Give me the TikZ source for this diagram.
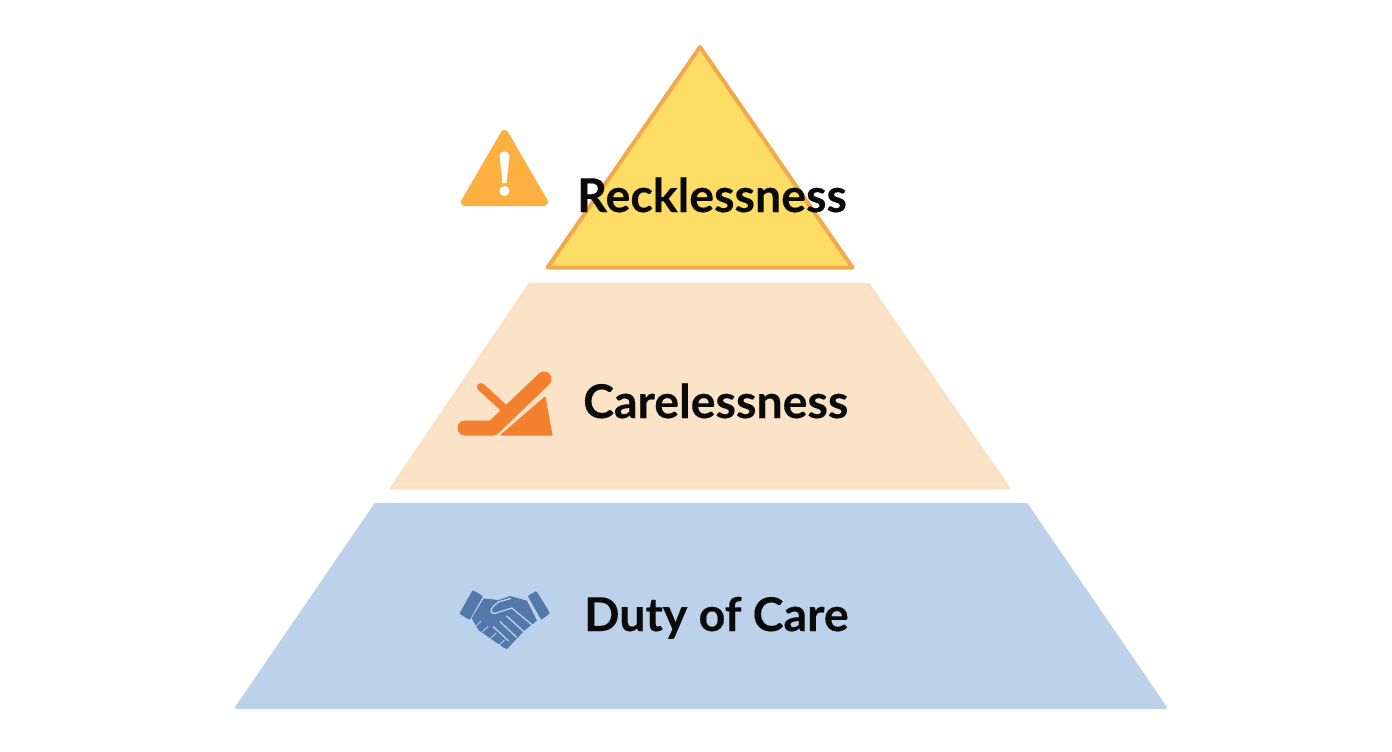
\documentclass[tikz,border=0pt]{standalone}
\usepackage{fontspec}
\setmainfont[BoldFeatures={FakeBold=0.35}]{Lato}
\definecolor{topfill}{HTML}{FEDD66}
\definecolor{topline}{HTML}{F3A94B}
\definecolor{midfill}{HTML}{FBE3C8}
\definecolor{midline}{HTML}{FBE0C2}
\definecolor{lowfill}{HTML}{BBD2EA}
\definecolor{warnfill}{HTML}{FDB03F}
\definecolor{slipfill}{HTML}{F47F2E}
\definecolor{handfill}{HTML}{5279A9}
\definecolor{labeltext}{HTML}{0A0A0A}
\tikzset{
  level/.style={line join=round,line width=3pt},
  label/.style={anchor=base west,inner sep=0pt,text=labeltext,font=\fontsize{46.5}{54}\selectfont\bfseries},
}
\begin{document}
\begin{tikzpicture}[x=1pt,y=-1pt]
\useasboundingbox (0,0) rectangle (1392,752);

% Levels
\draw[level,fill=topfill,draw=topline,line width=4pt] (700,47) -- (852.5,267.5) -- (547.5,267.5) -- cycle;
\draw[level,fill=midfill,draw=midline] (529.5,284.5) -- (868.5,284.5) -- (1008.5,488) -- (391.5,488) -- cycle;
\draw[level,fill=lowfill,draw=lowfill] (375.5,504.5) -- (1026.5,504.5) -- (1165.5,707.5) -- (236.5,707.5) -- cycle;

% Warning sign
\draw[fill=warnfill,draw=warnfill,line join=round,line width=8pt] (504.5,134) -- (544,202) -- (465,202) -- cycle;
\fill[white] (499.5,156) .. controls (499.5,150) and (509.5,150) .. (509.5,156) -- (506.5,183) -- (502.5,183) -- cycle;
\fill[white] (504.5,191) circle (5pt);

% Slip sign
\draw[slipfill,line width=8pt,line cap=round] (481,387) -- (505,409);
\draw[slipfill,line width=15pt,line cap=round,line join=round] (465,428) -- (493,428) -- (544,379);
\draw[fill=slipfill,draw=slipfill,line join=round,line width=1pt] (545,397) -- (552,435) -- (501,435) -- cycle;

% Handshake
\begin{scope}[shift={(445,580)},x=0.3333pt,y=-0.3333pt]
\fill[handfill,rounded corners=1pt] (83,30) -- (114,48) -- (74,120) -- (43,101) -- cycle;
\fill[handfill,rounded corners=1pt] (274,33) -- (248,48) -- (289,120) -- (315,99) -- cycle;
\fill[handfill,line join=round] (116,55) -- (160,60) -- (195,48) -- (246,62) -- (276,122) -- (240,150) -- (185,208) -- (150,185) -- (100,150) -- (80,115) -- cycle;
\foreach \a/\b in {100/130, 122/145, 146/165, 172/185}
{
\draw[handfill,line width=6pt,line cap=round] (\a,\b) -- (\a+8,\b+10);
\draw[lowfill,line width=0.8pt] (\a-10,\b+10) -- (\a+8,\b-6);
}
\draw[lowfill,line width=1.3pt,line join=round] (198,55) -- (160,66) .. controls (135,85) and (130,100) .. (150,100) -- (200,84) -- (262,135);
\draw[lowfill,line width=1.3pt,line cap=round] (185,108) -- (240,158);
\draw[lowfill,line width=1.3pt,line cap=round] (165,125) -- (215,172);
\draw[lowfill,line width=1.3pt,line cap=round] (145,140) -- (190,182);
\end{scope}

% Labels
\node[label] (reckless) at (577,212) {Recklessness};
\node[label] (careless) at (583,418) {Carelessness};
\node[label] (duty) at (584,631) {Duty of Care};

\end{tikzpicture}
\end{document}
